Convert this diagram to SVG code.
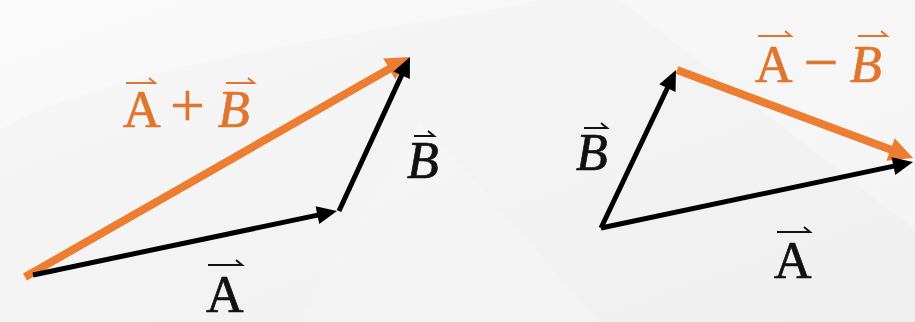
<svg xmlns="http://www.w3.org/2000/svg" width="915" height="322" viewBox="0 0 915 322">
<defs>
<style>
.lbl{font-family:"Liberation Serif","Times New Roman",serif;font-size:52px;stroke-width:0.7}
.op{font-size:62px;text-anchor:middle;stroke-width:0.4}
.blk{fill:#111;stroke:#111}
.org{fill:#E0762E;stroke:#E0762E}
.it{font-style:italic}
.vec{fill:none;stroke-width:2;stroke-linecap:butt}
.bl{stroke:#000;stroke-width:5;fill:none}
.ol{stroke:#ED7D31;stroke-width:8;fill:none}
</style>
<linearGradient id="bg" x1="0" y1="0" x2="1" y2="1">
<stop offset="0" stop-color="#f7f7f7"/>
<stop offset="1" stop-color="#efefef"/>
</linearGradient>
<marker id="hb" markerUnits="userSpaceOnUse" markerWidth="20" markerHeight="18" refX="10" refY="9" orient="auto" overflow="visible">
<path d="M0,0 L20,9 L0,18 Z" fill="#000"/>
</marker>
<marker id="ho" markerUnits="userSpaceOnUse" markerWidth="24" markerHeight="24" refX="12" refY="12" orient="auto" overflow="visible">
<path d="M0,0 L24,12 L0,24 Z" fill="#ED7D31"/>
</marker>
</defs>
<rect width="915" height="322" fill="url(#bg)"/>
<path d="M0,0 H540 C400,30 120,60 0,130 Z" fill="#ffffff" opacity="0.35"/>
<path d="M620,0 H915 V230 Z" fill="#ffffff" opacity="0.3"/>
<path d="M300,322 L420,120 L600,322 Z" fill="#ffffff" opacity="0.2"/>

<g id="connectors">
<line class="ol" x1="25" y1="277" x2="399.6" y2="63" marker-end="url(#ho)"/>
<line class="bl" x1="33" y1="275" x2="327.2" y2="213.1" marker-end="url(#hb)"/>
<line class="bl" x1="339" y1="211" x2="405.8" y2="66.1" marker-end="url(#hb)"/>
<line class="bl" x1="601" y1="228" x2="671.7" y2="79" marker-end="url(#hb)"/>
<line class="ol" x1="677" y1="70" x2="901.8" y2="153.8" marker-end="url(#ho)"/>
<line class="bl" x1="601" y1="228" x2="903.2" y2="164.1" marker-end="url(#hb)"/>
</g>

<g id="label-sum">
<text class="lbl org" y="127"><tspan x="123">A</tspan><tspan class="op" x="187.5" y="126">+</tspan><tspan x="218" y="127" class="it">B</tspan></text>
<path class="vec" stroke="#E0762E" d="M126,83 H155 L149,78 M226,83 H254 L248,78"/>
</g>
<g id="label-B-left">
<text class="lbl blk it" x="407" y="178">B</text>
<path class="vec" stroke="#111" d="M414,136 H434 L428,131"/>
</g>
<g id="label-A-left">
<text class="lbl blk" x="206" y="312">A</text>
<path class="vec" stroke="#111" d="M208,265 H242 L236,260"/>
</g>
<g id="label-diff">
<text class="lbl org" y="82"><tspan x="755">A</tspan><tspan class="op" x="821" y="83">−</tspan><tspan x="850" y="82" class="it">B</tspan></text>
<path class="vec" stroke="#E0762E" d="M758,36 H791 L785,31 M858,36 H887 L881,31"/>
</g>
<g id="label-B-right">
<text class="lbl blk it" x="576" y="170">B</text>
<path class="vec" stroke="#111" d="M584,128 H607 L601,123"/>
</g>
<g id="label-A-right">
<text class="lbl blk" x="774" y="278">A</text>
<path class="vec" stroke="#111" d="M777,232 H810 L804,227"/>
</g>
</svg>
